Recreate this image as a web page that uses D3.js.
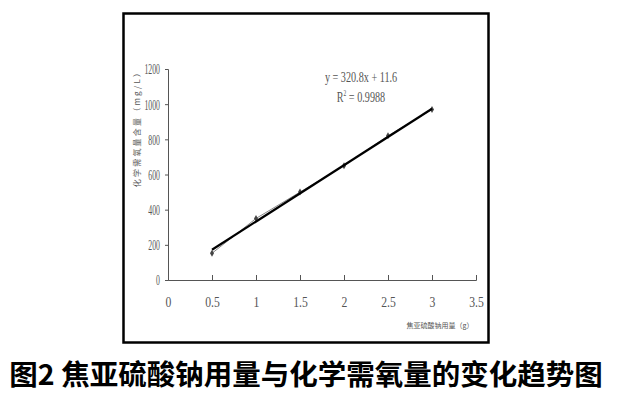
<!DOCTYPE html>
<html><head><meta charset="utf-8">
<script src="https://cdn.jsdelivr.net/npm/d3@7"></script>
<style>body{margin:0;background:#fff}svg{display:block}</style>
</head><body>
<svg id="c" width="617" height="400"></svg>
<script>
const doses = [0.5, 1, 1.5, 2, 2.5, 3];
const cod = [152, 350, 500, 650, 820, 970];
const xTicks = [0, 0.5, 1, 1.5, 2, 2.5, 3, 3.5];
const yTicks = [0, 200, 400, 600, 800, 1000, 1200];
const slope = 320.8, intercept = 11.6;
const eqText = "y = 320.8x + 11.6";
const r2Text = "0.9988";
const xTitle = "焦亚硫酸钠用量（g）";
const yTitle = "化学需氧量含量（mg/L）";
const caption = "图2 焦亚硫酸钠用量与化学需氧量的变化趋势图";

const svg = d3.select("#c");
const x = d3.scaleLinear().domain([0, 3.5]).range([168, 476]);
const y = d3.scaleLinear().domain([0, 1200]).range([280, 69]);
const grey = "#555";
const tickFont = "Liberation Serif";

// frame
svg.append("rect").attr("x", 123.5).attr("y", 13.5).attr("width", 365).attr("height", 329)
  .attr("fill", "none").attr("stroke", "#000").attr("stroke-width", 2.5);

// x axis
const gx = svg.append("g").attr("transform", `translate(0,${y(0)})`)
  .call(d3.axisBottom(x).tickValues(xTicks).tickSize(-5).tickPadding(0).tickFormat(d => String(d)));
gx.select(".domain").attr("stroke", grey);
gx.selectAll(".tick line").attr("stroke", grey);
const sxX = 0.78;
gx.selectAll(".tick text").attr("fill", grey).attr("font-family", tickFont).attr("font-size", 15)
  .attr("transform", `scale(${sxX},1)`).attr("x", 0).attr("y", 27).attr("dy", null);

// y axis
const gy = svg.append("g").attr("transform", `translate(${x(0)},0)`)
  .call(d3.axisLeft(y).tickValues(yTicks).tickSize(3).tickPadding(0).tickFormat(d => String(d)));
gy.select(".domain").attr("stroke", grey);
gy.selectAll(".tick line").attr("stroke", grey);
const sxY = 0.52;
gy.selectAll(".tick text").attr("fill", grey).attr("font-family", tickFont).attr("font-size", 15)
  .attr("transform", `scale(${sxY},1)`).attr("x", -8 / sxY).attr("dy", "0.33em");

// data line (thin grey)
const pts = doses.map((d, i) => [d, cod[i]]);
svg.append("path").datum(pts)
  .attr("fill", "none").attr("stroke", "#888").attr("stroke-width", 1)
  .attr("d", d3.line().x(d => x(d[0])).y(d => y(d[1])));

// markers
svg.append("g").selectAll("path").data(pts).join("path")
  .attr("transform", d => `translate(${x(d[0])},${y(d[1])})`)
  .attr("d", d3.symbol(d3.symbolDiamond, 14)).attr("fill", "#444");

// trendline
const tl = [doses[0], doses[doses.length - 1]].map(d => [d, slope * d + intercept]);
svg.append("path").datum(tl).attr("fill", "none").attr("stroke", "#000").attr("stroke-width", 2.2)
  .attr("d", d3.line().x(d => x(d[0])).y(d => y(d[1])));

// equation
const sxE = 0.68;
svg.append("text").attr("transform", `translate(361,82) scale(${sxE},1)`).attr("text-anchor", "middle")
  .attr("font-family", tickFont).attr("font-size", 15).attr("fill", grey)
  .text(eqText);
const r2 = svg.append("text").attr("transform", `translate(361,102) scale(${sxE},1)`).attr("text-anchor", "middle")
  .attr("font-family", tickFont).attr("font-size", 15).attr("fill", grey);
r2.append("tspan").text("R");
r2.append("tspan").attr("dy", -6).attr("font-size", 8).text("2");
r2.append("tspan").attr("dy", 6).text(" = " + r2Text);

// axis titles
svg.append("text").attr("x", 440).attr("y", 328).attr("text-anchor", "middle")
  .attr("font-family", "Noto Sans CJK SC").attr("font-size", 7).attr("fill", grey)
  .text(xTitle);
svg.append("text").attr("transform", "translate(140,127) rotate(-90)").attr("text-anchor", "middle")
  .attr("font-family", "Noto Sans CJK SC").attr("font-size", 8).attr("letter-spacing", 2.2).attr("fill", grey)
  .text(yTitle);

// caption
svg.append("text").attr("x", 306).attr("y", 385).attr("text-anchor", "middle")
  .attr("font-family", "Noto Sans CJK SC").attr("font-weight", "bold").attr("font-size", 28.5)
  .attr("fill", "#000").text(caption);
</script>
</body></html>
